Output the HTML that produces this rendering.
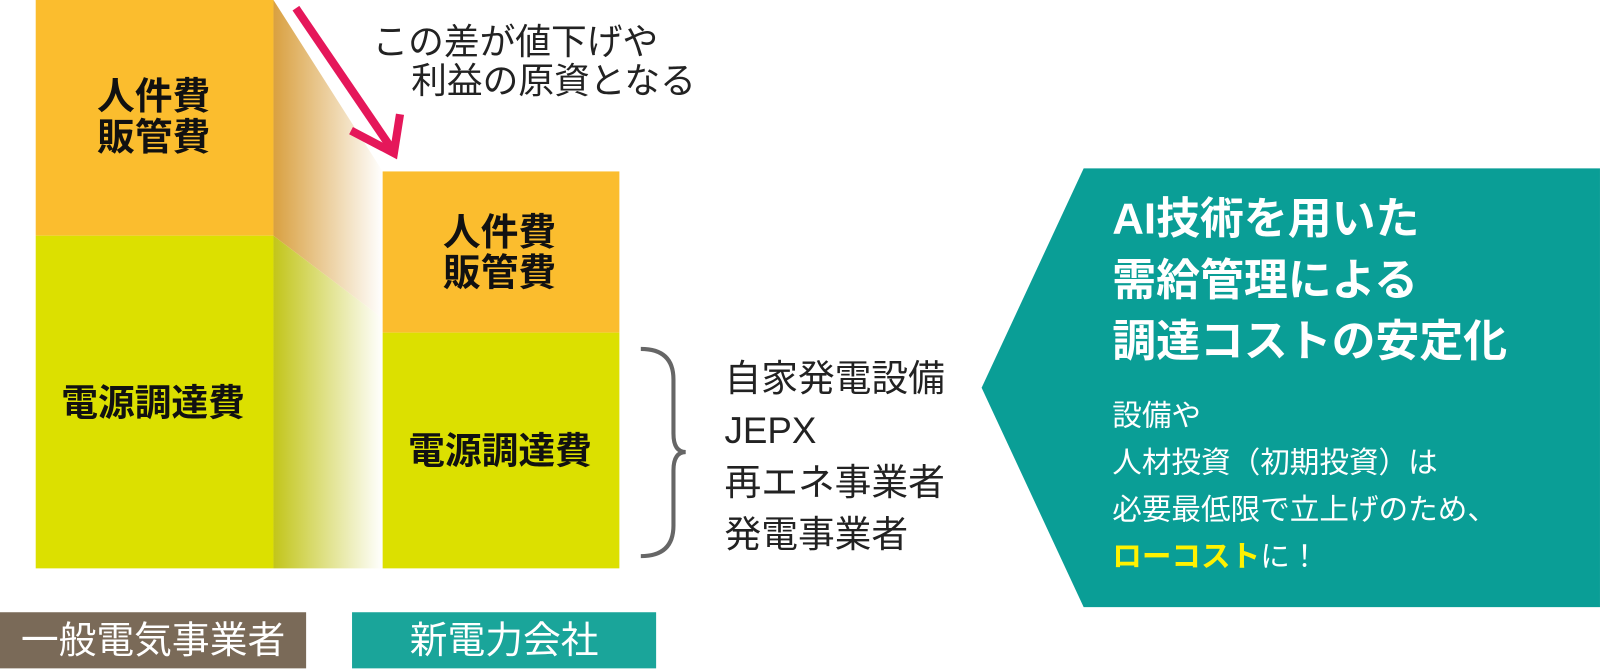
<!DOCTYPE html>
<html><head><meta charset="utf-8"><style>
body{margin:0;width:1600px;height:669px;background:#fff;overflow:hidden;position:relative;font-family:"Liberation Sans","Noto Sans CJK JP",sans-serif}
#w{position:absolute;left:0;top:0;width:1568px;height:656px;transform:scale(1.0204);transform-origin:0 0}
.t{position:absolute;white-space:nowrap}
</style></head><body><div id="w">
<svg width="1568" height="656" style="position:absolute;left:0;top:0">
<defs>
<linearGradient id="go" x1="0" x2="1" y1="0" y2="0"><stop offset="0" stop-color="#d9a040"/><stop offset="1" stop-color="#ffffff"/></linearGradient>
<linearGradient id="gg" x1="0" x2="1" y1="0" y2="0"><stop offset="0" stop-color="#c2c51a"/><stop offset="1" stop-color="#ffffff"/></linearGradient>
</defs>
<rect x="35" y="0" width="233" height="231" fill="#fbbd2e"/>
<rect x="35" y="231" width="233" height="326" fill="#dce000"/>
<polygon points="268,0 375,168 375,312 268,231" fill="url(#go)"/>
<polygon points="268,231 375,312 375,557 268,557" fill="url(#gg)"/>
<rect x="375" y="168" width="232" height="158" fill="#fbbd2e"/>
<rect x="375" y="326" width="232" height="231" fill="#dce000"/>
<line x1="290" y1="8" x2="384" y2="146" stroke="#e5175a" stroke-width="8"/>
<polyline points="344,128 386,150 392,112" fill="none" stroke="#e5175a" stroke-width="8"/>
<path d="M628,342 Q660,342 660,372 L660,425 Q660,443 672,443 Q660,443 660,461 L660,515 Q660,545 628,545" fill="none" stroke="#666" stroke-width="4"/>
<polygon points="1062,165 1568,165 1568,595 1062,595 962,380" fill="#0a9e96"/>
<rect x="0" y="600" width="300" height="55" fill="#7a6a58"/>
<rect x="345" y="600" width="298" height="55" fill="#1aa59a"/>
</svg>
<div class="t" style="left:365px;top:22px;font-size:35px;line-height:40px;color:#222">この差が値下げや</div>
<div class="t" style="left:403px;top:60px;font-size:35px;line-height:40px;color:#222">利益の原資となる</div>
<div class="t" style="left:95px;top:75px;font-size:37px;line-height:40px;font-weight:bold;color:#111">人件費<br>販管費</div>
<div class="t" style="left:434px;top:208px;font-size:37px;line-height:40px;font-weight:bold;color:#111">人件費<br>販管費</div>
<div class="t" style="left:60px;top:375px;font-size:36px;line-height:40px;font-weight:bold;color:#111">電源調達費</div>
<div class="t" style="left:400px;top:422px;font-size:36px;line-height:40px;font-weight:bold;color:#111">電源調達費</div>
<div class="t" style="left:710px;top:345px;font-size:36px;line-height:51px;color:#222">自家発電設備<br>JEPX<br>再エネ事業者<br>発電事業者</div>
<div class="t" style="left:1090px;top:185px;font-size:43px;line-height:60px;font-weight:bold;color:#fff">AI技術を用いた<br>需給管理による<br>調達コストの安定化</div>
<div class="t" style="left:1090px;top:385px;font-size:29px;line-height:46px;color:#fff">設備や<br>人材投資（初期投資）は<br>必要最低限で立上げのため、<br><b style="color:#fff200">ローコスト</b>に！</div>
<div class="t" style="left:0;top:607px;width:300px;text-align:center;font-size:37px;line-height:42px;color:#fff">一般電気事業者</div>
<div class="t" style="left:345px;top:607px;width:298px;text-align:center;font-size:37px;line-height:42px;color:#fff">新電力会社</div>
</div></body></html>
